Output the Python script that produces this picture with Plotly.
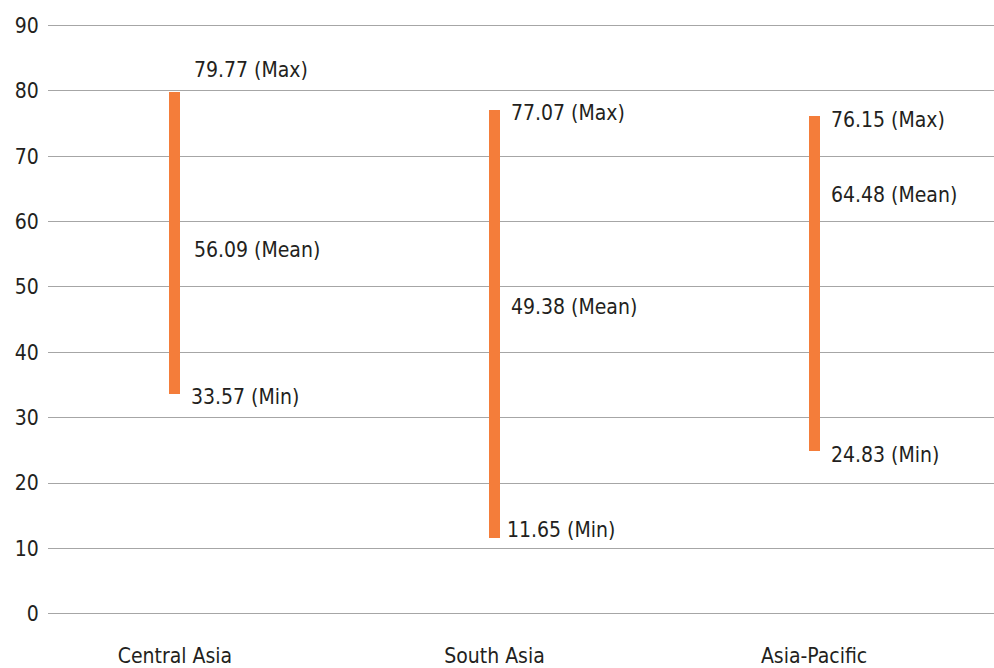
import plotly.graph_objects as go

# Regional score ranges
regions = ["Central Asia", "South Asia", "Asia-Pacific"]
max_vals = [79.77, 77.07, 76.15]
mean_vals = [56.09, 49.38, 64.48]
min_vals = [33.57, 11.65, 24.83]
y_ticks = [0, 10, 20, 30, 40, 50, 60, 70, 80, 90]

FONT = "Liberation Sans Narrow, DejaVu Sans Condensed, Arial Narrow, sans-serif"
BAR_COLOR = "#F47D3A"
TEXT_COLOR = "#231F20"

xpos = list(range(len(regions)))

fig = go.Figure()
fig.add_trace(go.Bar(
    x=xpos,
    y=[mx - mn for mx, mn in zip(max_vals, min_vals)],
    base=min_vals,
    width=0.034,
    marker=dict(color=BAR_COLOR, line=dict(width=0)),
    hoverinfo="skip",
    showlegend=False,
))

# label offsets (x px, y px) per region for max / mean / min
offsets = {
    "max": [(17, 22), (15, -3), (15, -4)],
    "mean": [(17, -3), (15, -16), (15, -3)],
    "min": [(14, -3), (11, 8), (15, -4)],
}
for i, x in enumerate(xpos):
    for key, vals, tag in (("max", max_vals, "Max"), ("mean", mean_vals, "Mean"), ("min", min_vals, "Min")):
        dx, dy = offsets[key][i]
        fig.add_annotation(
            x=x, y=vals[i], text=f"{vals[i]:.2f} ({tag})",
            showarrow=False, xanchor="left", yanchor="middle",
            xshift=dx, yshift=dy,
            font=dict(family=FONT, size=21, color=TEXT_COLOR),
        )

fig.update_layout(
    width=994, height=668,
    margin=dict(l=48, r=0, t=19, b=51),
    paper_bgcolor="white", plot_bgcolor="white",
    font=dict(family=FONT, size=21, color=TEXT_COLOR),
    bargap=0,
)
fig.update_xaxes(
    range=[-0.397, 2.563], automargin=False,
    tickmode="array", tickvals=xpos, ticktext=regions,
    showgrid=False, zeroline=False, showline=False,
    ticks="outside", ticklen=20, tickcolor="rgba(0,0,0,0)",
    tickfont=dict(family=FONT, size=21, color=TEXT_COLOR),
)
fig.update_yaxes(
    range=[-0.5, 91], automargin=False,
    tickmode="array", tickvals=y_ticks,
    showgrid=True, gridcolor="#A6A6A6", gridwidth=1,
    zeroline=True, zerolinecolor="#A6A6A6", zerolinewidth=1,
    showline=False,
    ticks="outside", ticklen=4, tickcolor="rgba(0,0,0,0)",
    tickfont=dict(family=FONT, size=21, color=TEXT_COLOR),
)

fig.write_html("out.html")
